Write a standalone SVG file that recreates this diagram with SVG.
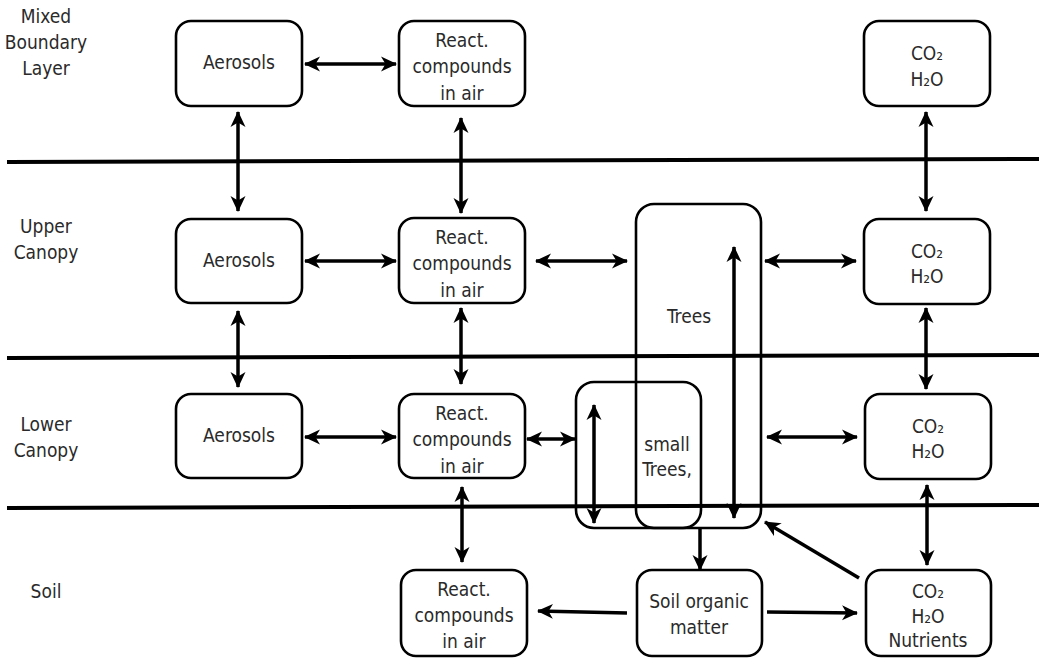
<svg xmlns="http://www.w3.org/2000/svg" width="1039" height="658" viewBox="0 0 1039 658">
<style>
.sep{stroke:#000;stroke-width:4;fill:none}
.box{fill:#fff;stroke:#000;stroke-width:2.6}
.tall{fill:none;stroke:#000;stroke-width:2.6}
text{font-family:"DejaVu Sans Condensed","DejaVu Sans",sans-serif;font-stretch:condensed;font-size:19px;fill:#2a2a2a;text-anchor:middle}
.c line{stroke:#000;stroke-width:3.5;fill:none}
.d{marker-start:url(#ah);marker-end:url(#ah)}
.s{marker-end:url(#ah)}
</style>
<defs>
<marker id="ah" viewBox="0 0 16 16" refX="15" refY="8" markerWidth="16" markerHeight="16" markerUnits="userSpaceOnUse" orient="auto-start-reverse">
<path d="M0,0.5 L16,8 L0,15.5 L4.5,8 z" fill="#000"/>
</marker>
</defs>
<rect width="1039" height="658" fill="#fff"/>
<g id="separators">
<line class="sep" x1="7" y1="162" x2="1039" y2="159"/>
<line class="sep" x1="7" y1="358" x2="1039" y2="355"/>
<line class="sep" x1="7" y1="508" x2="1039" y2="505"/>
</g>
<g id="layer-labels">
<text x="46" y="23">Mixed</text>
<text x="46" y="49">Boundary</text>
<text x="46" y="75">Layer</text>
<text x="46" y="233">Upper</text>
<text x="46" y="259">Canopy</text>
<text x="46" y="431">Lower</text>
<text x="46" y="457">Canopy</text>
<text x="46" y="598">Soil</text>
</g>
<g id="mbl-aerosols"><rect class="box" x="176" y="21" width="126" height="85" rx="15"/><text x="239" y="69">Aerosols</text></g>
<g id="mbl-react"><rect class="box" x="399" y="21" width="126" height="85" rx="15"/><text x="462" y="47">React.</text><text x="462" y="73">compounds</text><text x="462" y="100">in air</text></g>
<g id="mbl-co2"><rect class="box" x="864" y="21" width="126" height="85" rx="15"/><text x="927" y="60">CO₂</text><text x="927" y="86">H₂O</text></g>
<g id="uc-aerosols"><rect class="box" x="176" y="219" width="126" height="84" rx="15"/><text x="239" y="267">Aerosols</text></g>
<g id="uc-react"><rect class="box" x="399" y="218" width="126" height="85" rx="15"/><text x="462" y="244">React.</text><text x="462" y="270">compounds</text><text x="462" y="297">in air</text></g>
<g id="uc-co2"><rect class="box" x="864" y="219" width="126" height="85" rx="15"/><text x="927" y="258">CO₂</text><text x="927" y="283">H₂O</text></g>
<g id="trees"><rect class="tall" x="636" y="204" width="125" height="324" rx="18"/><text x="689" y="323">Trees</text></g>
<g id="small-trees"><rect class="tall" x="576" y="382" width="125" height="146" rx="18"/><text x="667" y="451">small</text><text x="667" y="476">Trees,</text></g>
<g id="lc-aerosols"><rect class="box" x="176" y="394" width="126" height="84" rx="15"/><text x="239" y="442">Aerosols</text></g>
<g id="lc-react"><rect class="box" x="399" y="394" width="126" height="84" rx="15"/><text x="462" y="420">React.</text><text x="462" y="446">compounds</text><text x="462" y="473">in air</text></g>
<g id="lc-co2"><rect class="box" x="865" y="394" width="126" height="85" rx="15"/><text x="928" y="433">CO₂</text><text x="928" y="458">H₂O</text></g>
<g id="soil-react"><rect class="box" x="401" y="570" width="126" height="86" rx="15"/><text x="464" y="596">React.</text><text x="464" y="622">compounds</text><text x="464" y="648">in air</text></g>
<g id="soil-organic"><rect class="box" x="637" y="570" width="125" height="86" rx="15"/><text x="699" y="608">Soil organic</text><text x="699" y="634">matter</text></g>
<g id="soil-co2"><rect class="box" x="866" y="570" width="125" height="86" rx="15"/><text x="928" y="598">CO₂</text><text x="928" y="623">H₂O</text><text x="928" y="647">Nutrients</text></g>
<g id="connectors" class="c">
<line class="d" x1="305" y1="64" x2="396" y2="64"/>
<line class="d" x1="238" y1="112" x2="238" y2="211"/>
<line class="d" x1="461" y1="118" x2="461" y2="213"/>
<line class="d" x1="926" y1="112" x2="926" y2="211"/>
<line class="d" x1="305" y1="261" x2="396" y2="261"/>
<line class="d" x1="536" y1="261" x2="627" y2="261"/>
<line class="d" x1="765" y1="261" x2="856" y2="261"/>
<line class="d" x1="238" y1="311" x2="238" y2="387"/>
<line class="d" x1="461" y1="308" x2="461" y2="384"/>
<line class="d" x1="926" y1="308" x2="926" y2="389"/>
<line class="d" x1="305" y1="437" x2="396" y2="437"/>
<line class="d" x1="527" y1="439" x2="575" y2="439"/>
<line class="d" x1="767" y1="437" x2="857" y2="437"/>
<line class="d" x1="462" y1="487" x2="462" y2="562"/>
<line class="d" x1="927" y1="485" x2="927" y2="565"/>
<line class="d" x1="594" y1="405" x2="594" y2="523"/>
<line class="d" x1="734" y1="247" x2="734" y2="518"/>
<line class="s" x1="700" y1="529" x2="700" y2="570"/>
<line class="s" x1="627" y1="613" x2="538" y2="611"/>
<line class="s" x1="767" y1="612" x2="857" y2="613"/>
<line class="s" x1="859" y1="578" x2="765" y2="522"/>
</g>
</svg>
